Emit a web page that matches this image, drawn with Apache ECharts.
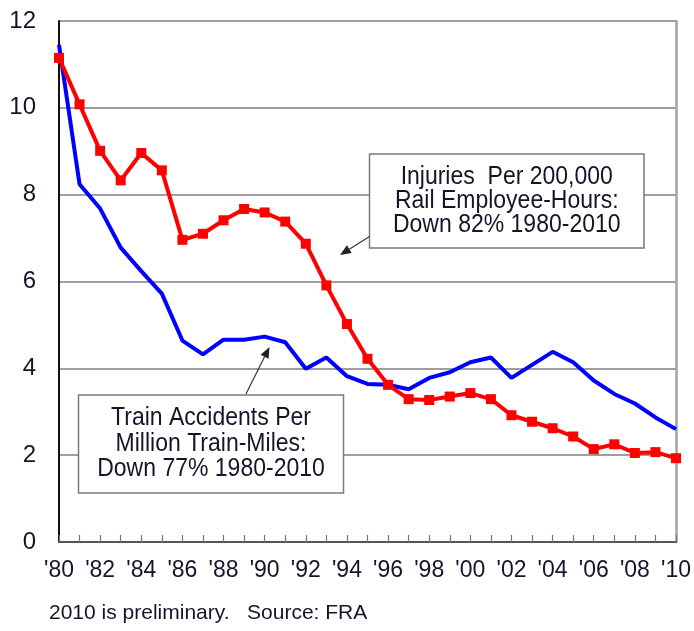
<!DOCTYPE html>
<html>
<head>
<meta charset="utf-8">
<script src="https://cdn.jsdelivr.net/npm/echarts@6/dist/echarts.min.js"></script>
<style>
  html, body { margin: 0; padding: 0; background: #ffffff; }
  #chart { width: 694px; height: 631px; }
</style>
</head>
<body>
<div id="chart"></div>
<script>
// Years 1980-2010, shown as two-digit tick labels
const yearLabels = ["'80", "'81", "'82", "'83", "'84", "'85", "'86", "'87", "'88", "'89",
                    "'90", "'91", "'92", "'93", "'94", "'95", "'96", "'97", "'98", "'99",
                    "'00", "'01", "'02", "'03", "'04", "'05", "'06", "'07", "'08", "'09", "'10"];

// Injuries per 200,000 rail employee-hours
const injuries = [11.15, 10.08, 9.01, 8.33, 8.96, 8.56, 6.96, 7.10, 7.41, 7.67,
                  7.59, 7.38, 6.87, 5.91, 5.02, 4.22, 3.62, 3.29, 3.27, 3.35,
                  3.43, 3.29, 2.92, 2.77, 2.62, 2.43, 2.14, 2.25, 2.05, 2.07, 1.93];

// Train accidents per million train-miles
const trainAccidents = [11.45, 8.24, 7.68, 6.78, 6.24, 5.72, 4.64, 4.32, 4.66, 4.66,
                        4.73, 4.60, 3.99, 4.25, 3.82, 3.64, 3.62, 3.52, 3.78, 3.91,
                        4.14, 4.25, 3.78, 4.08, 4.38, 4.14, 3.72, 3.41, 3.19, 2.87, 2.60];

const injuryNote = ['Injuries  Per 200,000', 'Rail Employee-Hours:', 'Down 82% 1980-2010'];
const accidentNote = ['Train Accidents Per', 'Million Train-Miles:', 'Down 77% 1980-2010'];
const footNote = '2010 is preliminary.   Source: FRA';

const FONT = '"Liberation Sans", Arial, sans-serif';
const TEXT_COLOR = '#15152a';

// Thin connector line ending in a filled arrowhead
function arrow(x1, y1, x2, y2) {
  const a = Math.atan2(y2 - y1, x2 - x1);
  const len = 11, half = 4.5;
  const bx = x2 - len * Math.cos(a), by = y2 - len * Math.sin(a);
  const nx = -Math.sin(a) * half, ny = Math.cos(a) * half;
  return [
    { type: 'line', shape: { x1: x1, y1: y1, x2: bx, y2: by },
      style: { stroke: '#333', lineWidth: 1.2 }, z: 50 },
    { type: 'polygon', shape: { points: [[x2, y2], [bx + nx, by + ny], [bx - nx, by - ny]] },
      style: { fill: '#222' }, z: 50 }
  ];
}

// White callout box with centred, slightly condensed three-line text
function noteBox(x, y, w, h, lines, lineHeight) {
  return [
    { type: 'rect', shape: { x: x, y: y, width: w, height: h },
      style: { fill: '#ffffff', stroke: '#7a7a7a', lineWidth: 1.5 }, z: 40 },
    { type: 'text', x: x + w / 2, y: y + h / 2, scaleX: 0.92, z: 41,
      style: { text: lines.join('\n'), font: '25px ' + FONT, fill: TEXT_COLOR,
               align: 'center', verticalAlign: 'middle',
               textAlign: 'center', textVerticalAlign: 'middle', lineHeight: lineHeight } }
  ];
}

const chart = echarts.init(document.getElementById('chart'), null, { renderer: 'canvas' });

chart.setOption({
  animation: false,
  backgroundColor: '#ffffff',
  grid: { left: 59, right: 17, top: 21, bottom: 89, containLabel: false },
  xAxis: [{
    type: 'category',
    data: yearLabels,
    boundaryGap: false,
    axisLine: { lineStyle: { color: '#111', width: 2 } },
    axisTick: { show: true, inside: true, length: 7, interval: 0, lineStyle: { color: '#777', width: 1.2 } },
    axisLabel: { interval: 1, margin: 17, fontSize: 23, fontFamily: FONT, color: TEXT_COLOR },
    splitLine: { show: false }
  }, {
    type: 'category',
    data: yearLabels,
    boundaryGap: false,
    position: 'top',
    axisLine: { lineStyle: { color: '#555', width: 2 } },
    axisTick: { show: false },
    axisLabel: { show: false },
    splitLine: { show: false }
  }],
  yAxis: [{
    type: 'value',
    min: 0, max: 12, interval: 2,
    axisLine: { show: true, lineStyle: { color: '#111', width: 2 } },
    axisTick: { show: false },
    axisLabel: { margin: 23, fontSize: 24, fontFamily: FONT, color: TEXT_COLOR },
    splitLine: { show: true, lineStyle: { color: '#9f9f9f', width: 2 } }
  }, {
    type: 'value',
    min: 0, max: 12, interval: 2,
    position: 'right',
    axisLine: { show: true, lineStyle: { color: '#a3a3a3', width: 2.5 } },
    axisTick: { show: false },
    axisLabel: { show: false },
    splitLine: { show: false }
  }],
  series: [{
    name: 'Train Accidents',
    type: 'line',
    data: trainAccidents,
    showSymbol: false,
    symbol: 'none',
    lineStyle: { color: '#0000ff', width: 4 },
    itemStyle: { color: '#0000ff' },
    z: 3
  }, {
    name: 'Injuries',
    type: 'line',
    data: injuries,
    symbol: 'rect',
    symbolSize: 10,
    lineStyle: { color: '#ff0000', width: 4 },
    itemStyle: { color: '#ff0000' },
    z: 4
  }],
  graphic: [].concat(
    noteBox(369.5, 154, 274.5, 94, injuryNote, 24),
    arrow(369.5, 236.5, 340, 255),
    noteBox(78.5, 395, 265, 98, accidentNote, 25.5),
    arrow(246, 394, 269.5, 347),
    [{ type: 'text', x: 49, y: 613, z: 41,
       style: { text: footNote, font: '21px ' + FONT, fill: TEXT_COLOR,
                align: 'left', verticalAlign: 'middle',
                textAlign: 'left', textVerticalAlign: 'middle' } }]
  )
});
</script>
</body>
</html>
